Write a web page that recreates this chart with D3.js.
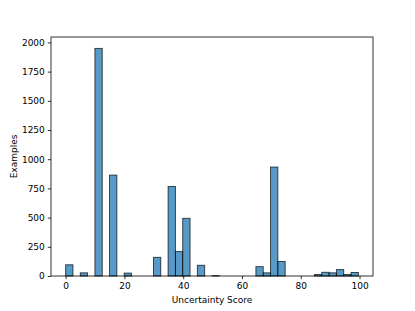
<!DOCTYPE html>
<html>
<head>
<meta charset="utf-8">
<script src="https://cdn.jsdelivr.net/npm/d3@7"></script>
<style>
  body { margin: 0; background: #fff; }
  svg text { font-family: "DejaVu Sans", sans-serif; fill: #000; }
</style>
</head>
<body>
<div id="chart"></div>
<script>
// histogram: 40 bins from 0 to ~99.6
const binStart = 0;
const binWidth = 2.49;
const counts = [
  96, 0, 27, 0, 1949, 0, 864, 0, 25, 0,
  0, 0, 160, 0, 767, 209, 494, 0, 92, 0,
  3, 0, 0, 0, 0, 0, 80, 27, 933, 124,
  0, 0, 0, 0, 13, 32, 27, 55, 13, 30
];
const xTicks = [0, 20, 40, 60, 80, 100];
const yTicks = [0, 250, 500, 750, 1000, 1250, 1500, 1750, 2000];

var margin = {top: 37, right: 42, bottom: 35, left: 51};
var width = 415 - margin.left - margin.right,
    height = 311 - margin.top - margin.bottom;

var bins = counts.map(function(c, i) {
  return {x0: binStart + i * binWidth, x1: binStart + (i + 1) * binWidth, n: c};
});
var xmin = binStart, xmax = binStart + counts.length * binWidth;
var pad = (xmax - xmin) * 0.05;

var x = d3.scaleLinear().domain([xmin - pad, xmax + pad]).range([0, width]);
var y = d3.scaleLinear().domain([0, d3.max(counts) * 1.05]).range([height, 0]);

var svg = d3.select("#chart").append("svg")
    .attr("width", 415).attr("height", 311)
  .append("g")
    .attr("transform", "translate(" + margin.left + "," + margin.top + ")");

svg.selectAll(".bar")
    .data(bins.filter(function(d) { return d.n > 0; }))
    .enter()
    .append("rect")
    .attr("class", "bar")
    .attr("x", function(d) { return x(d.x0); })
    .attr("width", function(d) { return x(d.x1) - x(d.x0); })
    .attr("y", function(d) { return y(d.n); })
    .attr("height", function(d) { return y(0) - y(d.n); })
    .attr("fill", "#1f77b4")
    .attr("fill-opacity", 0.75)
    .attr("stroke", "#000")
    .attr("stroke-opacity", 0.75)
    .attr("stroke-width", 0.9);

var xAxis = svg.append("g")
    .attr("transform", "translate(0," + height + ")")
    .call(d3.axisBottom(x).tickValues(xTicks).tickFormat(d3.format("d")).tickSize(3.2).tickPadding(3));
var yAxis = svg.append("g")
    .call(d3.axisLeft(y).tickValues(yTicks).tickFormat(d3.format("d")).tickSize(3.2).tickPadding(3));

[xAxis, yAxis].forEach(function(a) {
  a.select(".domain").remove();
  a.selectAll("text").style("font-size", "9px").style("font-family", "DejaVu Sans");
  a.selectAll("line").attr("stroke-width", 0.8);
});

// frame
svg.append("rect")
    .attr("x", 0).attr("y", 0)
    .attr("width", width).attr("height", height)
    .attr("fill", "none")
    .attr("stroke", "#000")
    .attr("stroke-width", 0.8);

svg.append("text")
    .attr("x", width / 2)
    .attr("y", height + 27)
    .attr("text-anchor", "middle")
    .style("font-size", "9px")
    .text("Uncertainty Score");

svg.append("text")
    .attr("transform", "rotate(-90)")
    .attr("x", -height / 2)
    .attr("y", -34)
    .attr("text-anchor", "middle")
    .style("font-size", "9px")
    .text("Examples");
</script>
</body>
</html>
